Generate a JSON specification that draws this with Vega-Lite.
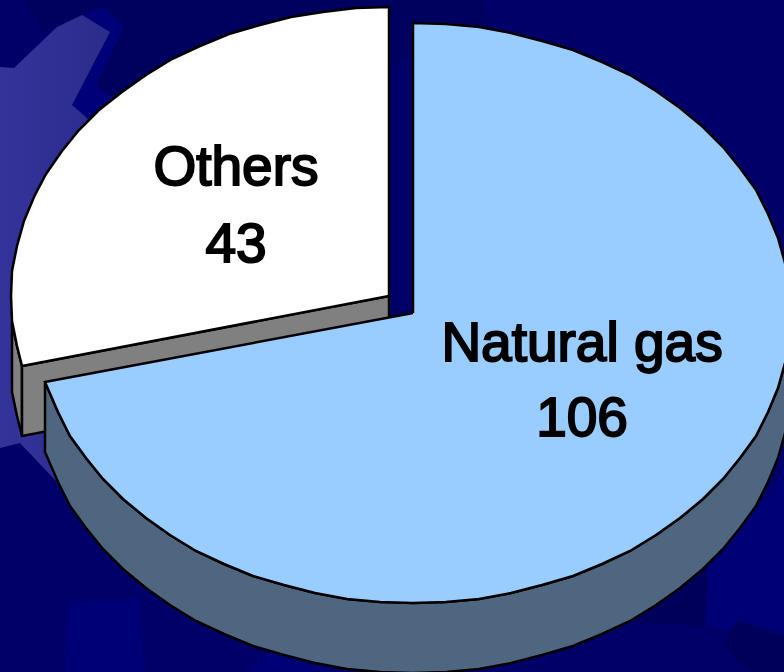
{
"$schema":"https://vega.github.io/schema/vega-lite/v6.json",
"width":784,"height":672,"autosize":{"type":"fit","contains":"padding"},"padding":0,
"background":"#000068","view":{"stroke":null},
"datasets":{
"bgLight":[{"x":0,"y":67,"o":1},{"x":14,"y":68,"o":2},{"x":57,"y":27,"o":3},{"x":82,"y":15,"o":4},{"x":110,"y":32,"o":5},{"x":72,"y":105,"o":6},{"x":87,"y":118,"o":7},{"x":200,"y":300,"o":8},{"x":57,"y":482,"o":9},{"x":20,"y":443,"o":10},{"x":0,"y":448,"o":11},{"x":0,"y":67,"o":12}],
"bgDark":[{"x":25,"y":0,"o":1},{"x":43,"y":33,"o":2},{"x":82,"y":15,"o":3},{"x":103,"y":7,"o":4},{"x":124,"y":27,"o":5},{"x":96,"y":85,"o":6},{"x":140,"y":120,"o":7},{"x":300,"y":100,"o":8},{"x":490,"y":26,"o":9},{"x":482,"y":0,"o":10},{"x":25,"y":0,"o":11}],
"bgBright":[{"x":82,"y":15,"o":1},{"x":103,"y":7,"o":2},{"x":124,"y":27,"o":3},{"x":96,"y":85,"o":4},{"x":112,"y":98,"o":5},{"x":87,"y":118,"o":6},{"x":72,"y":105,"o":7},{"x":110,"y":32,"o":8},{"x":82,"y":15,"o":9}],
"bgPatch":[{"x":68,"y":602,"g":"a","o":1},{"x":139,"y":597,"g":"a","o":2},{"x":145,"y":672,"g":"a","o":3},{"x":65,"y":672,"g":"a","o":4},{"x":68,"y":602,"g":"a","o":5},{"x":267,"y":652,"g":"d","o":1},{"x":330,"y":660,"g":"d","o":2},{"x":330,"y":672,"g":"d","o":3},{"x":247,"y":672,"g":"d","o":4},{"x":267,"y":652,"g":"d","o":5},{"x":708,"y":560,"g":"e","o":1},{"x":773,"y":490,"g":"e","o":2},{"x":784,"y":460,"g":"e","o":3},{"x":784,"y":640,"g":"e","o":4},{"x":705,"y":626,"g":"e","o":5},{"x":708,"y":560,"g":"e","o":6}],
"bgPatch2":[{"x":722,"y":645,"g":"b","o":1},{"x":737,"y":620,"g":"b","o":2},{"x":784,"y":635,"g":"b","o":3},{"x":784,"y":672,"g":"b","o":4},{"x":750,"y":672,"g":"b","o":5},{"x":722,"y":645,"g":"b","o":6},{"x":620,"y":565,"g":"c","o":1},{"x":708,"y":560,"g":"c","o":2},{"x":705,"y":626,"g":"c","o":3},{"x":620,"y":622,"g":"c","o":4},{"x":620,"y":565,"g":"c","o":5}],
"gasSide":[{"x":791,"y":313,"o":1},{"x":790,"y":338,"o":2},{"x":785,"y":363,"o":3},{"x":778,"y":388,"o":4},{"x":768,"y":412,"o":5},{"x":756,"y":436,"o":6},{"x":740,"y":458,"o":7},{"x":723,"y":479,"o":8},{"x":703,"y":499,"o":9},{"x":680,"y":518,"o":10},{"x":656,"y":535,"o":11},{"x":630,"y":551,"o":12},{"x":602,"y":564,"o":13},{"x":573,"y":576,"o":14},{"x":542,"y":585,"o":15},{"x":511,"y":593,"o":16},{"x":479,"y":599,"o":17},{"x":446,"y":602,"o":18},{"x":413,"y":603,"o":19},{"x":380,"y":602,"o":20},{"x":347,"y":599,"o":21},{"x":315,"y":593,"o":22},{"x":284,"y":585,"o":23},{"x":253,"y":576,"o":24},{"x":224,"y":564,"o":25},{"x":196,"y":551,"o":26},{"x":170,"y":535,"o":27},{"x":146,"y":518,"o":28},{"x":123,"y":499,"o":29},{"x":103,"y":479,"o":30},{"x":86,"y":458,"o":31},{"x":70,"y":436,"o":32},{"x":58,"y":412,"o":33},{"x":45,"y":382,"o":34},{"x":45,"y":452,"o":35},{"x":58,"y":482,"o":36},{"x":70,"y":506,"o":37},{"x":86,"y":528,"o":38},{"x":103,"y":549,"o":39},{"x":123,"y":569,"o":40},{"x":146,"y":588,"o":41},{"x":170,"y":605,"o":42},{"x":196,"y":621,"o":43},{"x":224,"y":634,"o":44},{"x":253,"y":646,"o":45},{"x":284,"y":655,"o":46},{"x":315,"y":663,"o":47},{"x":347,"y":669,"o":48},{"x":380,"y":672,"o":49},{"x":413,"y":673,"o":50},{"x":446,"y":672,"o":51},{"x":479,"y":669,"o":52},{"x":511,"y":663,"o":53},{"x":542,"y":655,"o":54},{"x":573,"y":646,"o":55},{"x":602,"y":634,"o":56},{"x":630,"y":621,"o":57},{"x":656,"y":605,"o":58},{"x":680,"y":588,"o":59},{"x":703,"y":569,"o":60},{"x":723,"y":549,"o":61},{"x":740,"y":528,"o":62},{"x":756,"y":506,"o":63},{"x":768,"y":482,"o":64},{"x":778,"y":458,"o":65},{"x":785,"y":433,"o":66},{"x":790,"y":408,"o":67},{"x":791,"y":383,"o":68},{"x":791,"y":313,"o":69}],
"gasTop":[{"x":413,"y":313,"o":0},{"x":413,"y":23,"o":1},{"x":446,"y":24,"o":2},{"x":479,"y":27,"o":3},{"x":511,"y":33,"o":4},{"x":542,"y":41,"o":5},{"x":573,"y":50,"o":6},{"x":602,"y":62,"o":7},{"x":630,"y":75,"o":8},{"x":656,"y":91,"o":9},{"x":680,"y":108,"o":10},{"x":703,"y":127,"o":11},{"x":723,"y":147,"o":12},{"x":740,"y":168,"o":13},{"x":756,"y":190,"o":14},{"x":768,"y":214,"o":15},{"x":778,"y":238,"o":16},{"x":785,"y":263,"o":17},{"x":790,"y":288,"o":18},{"x":791,"y":313,"o":19},{"x":790,"y":338,"o":20},{"x":785,"y":363,"o":21},{"x":778,"y":388,"o":22},{"x":768,"y":412,"o":23},{"x":756,"y":436,"o":24},{"x":740,"y":458,"o":25},{"x":723,"y":479,"o":26},{"x":703,"y":499,"o":27},{"x":680,"y":518,"o":28},{"x":656,"y":535,"o":29},{"x":630,"y":551,"o":30},{"x":602,"y":564,"o":31},{"x":573,"y":576,"o":32},{"x":542,"y":585,"o":33},{"x":511,"y":593,"o":34},{"x":479,"y":599,"o":35},{"x":446,"y":602,"o":36},{"x":413,"y":603,"o":37},{"x":380,"y":602,"o":38},{"x":347,"y":599,"o":39},{"x":315,"y":593,"o":40},{"x":284,"y":585,"o":41},{"x":253,"y":576,"o":42},{"x":224,"y":564,"o":43},{"x":196,"y":551,"o":44},{"x":170,"y":535,"o":45},{"x":146,"y":518,"o":46},{"x":123,"y":499,"o":47},{"x":103,"y":479,"o":48},{"x":86,"y":458,"o":49},{"x":70,"y":436,"o":50},{"x":58,"y":412,"o":51},{"x":45,"y":382,"o":52},{"x":413,"y":313,"o":53}],
"othSide":[{"x":12,"y":322,"o":1},{"x":17,"y":346,"o":2},{"x":22,"y":366,"o":3},{"x":22,"y":436,"o":4},{"x":17,"y":416,"o":5},{"x":12,"y":392,"o":6},{"x":12,"y":322,"o":7}],
"othFront":[{"x":22,"y":366,"o":1},{"x":389,"y":296,"o":2},{"x":389,"y":366,"o":3},{"x":22,"y":436,"o":4},{"x":22,"y":366,"o":5}],
"othTop":[{"x":389,"y":296,"o":0},{"x":389,"y":7,"o":1},{"x":356,"y":8,"o":2},{"x":323,"y":12,"o":3},{"x":291,"y":17,"o":4},{"x":260,"y":25,"o":5},{"x":229,"y":34,"o":6},{"x":200,"y":46,"o":7},{"x":172,"y":59,"o":8},{"x":146,"y":75,"o":9},{"x":122,"y":92,"o":10},{"x":99,"y":110,"o":11},{"x":79,"y":130,"o":12},{"x":62,"y":151,"o":13},{"x":46,"y":174,"o":14},{"x":34,"y":197,"o":15},{"x":24,"y":221,"o":16},{"x":17,"y":246,"o":17},{"x":12,"y":271,"o":18},{"x":11,"y":296,"o":19},{"x":12,"y":321,"o":20},{"x":17,"y":346,"o":21},{"x":22,"y":366,"o":22},{"x":389,"y":296,"o":23}],
"labels":[{"x":236,"y":168,"t":"Others"},{"x":236,"y":245,"t":"43"},{"x":582,"y":344,"t":"Natural gas"},{"x":582,"y":419,"t":"106"}]
},
"encoding":{
"x":{"field":"x","type":"quantitative","scale":{"domain":[0,784],"nice":false,"zero":false},"axis":null},
"y":{"field":"y","type":"quantitative","scale":{"domain":[672,0],"nice":false,"zero":false},"axis":null},
"order":{"field":"o","type":"quantitative"}
},
"layer":[
{"data":{"name":"bgDark"},"mark":{"type":"line","fill":"#00005e","stroke":null,"clip":true}},
{"data":{"name":"bgPatch"},"mark":{"type":"line","fill":"#000075","stroke":null,"clip":true},"encoding":{"detail":{"field":"g"}}},
{"data":{"name":"bgPatch2"},"mark":{"type":"line","fill":"#00005a","stroke":null,"clip":true},"encoding":{"detail":{"field":"g"}}},
{"data":{"name":"bgBright"},"mark":{"type":"line","fill":"#000078","stroke":null,"clip":true}},
{"data":{"name":"bgLight"},"mark":{"type":"line","stroke":null,"clip":true,"fill":{"gradient":"linear","x1":0,"x2":1,"y1":0,"y2":0,"stops":[{"offset":0,"color":"#33339a"},{"offset":1,"color":"#262680"}]}}},
{"data":{"name":"othSide"},"mark":{"type":"line","fill":"#808080","stroke":"#000000","strokeWidth":2.5,"clip":true}},
{"data":{"name":"othFront"},"mark":{"type":"line","fill":"#808080","stroke":"#000000","strokeWidth":2.5,"clip":true}},
{"data":{"name":"othTop"},"mark":{"type":"line","fill":"#ffffff","stroke":"#000000","strokeWidth":2.5,"clip":true}},
{"data":{"name":"gasSide"},"mark":{"type":"line","fill":"#4f6680","stroke":"#000000","strokeWidth":2.5,"clip":true}},
{"data":{"name":"gasTop"},"mark":{"type":"line","fill":"#99ccff","stroke":"#000000","strokeWidth":2.5,"clip":true}},
{"data":{"name":"labels"},"mark":{"type":"text","font":"Liberation Sans","fontSize":55,"color":"#000000","stroke":"#000000","strokeWidth":2,"baseline":"middle","align":"center"},"encoding":{"text":{"field":"t"},"order":null}}
]
}
